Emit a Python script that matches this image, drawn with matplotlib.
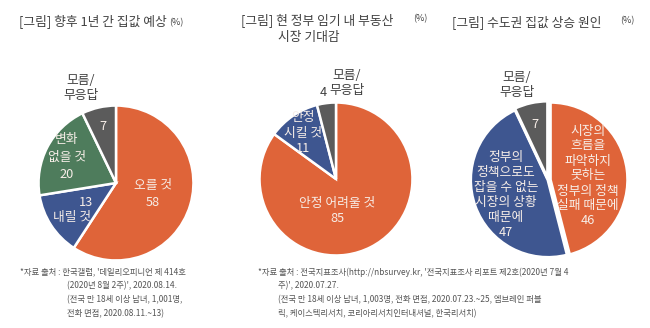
import matplotlib
matplotlib.use('Agg')
import matplotlib.pyplot as plt

plt.rcParams['font.family'] = ['Noto Sans CJK KR', 'DejaVu Sans']

W, H = 650, 328

# 데이터
pie1_labels = ['오를 것', '내릴 것', '변화 없을 것', '모름/무응답']
pie1_values = [58, 13, 20, 7]
pie2_labels = ['안정 어려울 것', '안정 시킬 것', '모름/무응답']
pie2_values = [85, 11, 4]
pie3_labels = ['정부의 정책 실패 때문에', '시장의 상황 때문에', '모름/무응답']
pie3_values = [46, 47, 7]

ORANGE = '#DF6439'
BLUE = '#3E5690'
GREEN = '#4E7C5C'
GRAY = '#5B5B5B'
TXT_IN = '#F7EEE8'
TXT_OUT = '#404040'
FS = 9.2

fig = plt.figure(figsize=(W / 100, H / 100), dpi=100)
fig.patch.set_facecolor('white')


def px(x, y):
    return x / W, 1 - y / H


def ftext(x, y, s, size=FS, color=TXT_OUT, ha='center', va='center', **kw):
    fx, fy = px(x, y)
    fig.text(fx, fy, s, fontsize=size, color=color, ha=ha, va=va, **kw)


def draw_pie(cx, cy, r, values, colors, explode=None, lw=1.8):
    ax = fig.add_axes([(cx - r) / W, 1 - (cy + r) / H, 2 * r / W, 2 * r / H])
    ax.pie(values, colors=colors, startangle=90, counterclock=False,
           explode=explode, radius=1,
           wedgeprops=dict(edgecolor='white', linewidth=lw))
    ax.set_xlim(-1.02, 1.02)
    ax.set_ylim(-1.02, 1.02)
    ax.set_aspect('equal')
    ax.axis('off')
    return ax


# 그림 1
draw_pie(116, 183, 79, pie1_values, [ORANGE, BLUE, GREEN, GRAY])
ftext(19, 22, '[그림] 향후 1년 간 집값 예상', ha='left')
ftext(169, 23, '(%)', size=6.5, ha='left')
ftext(153, 194, f'오를 것\n{pie1_values[0]}', color=TXT_IN, linespacing=1.35)
ftext(86, 203, f'{pie1_values[1]}', color=TXT_IN)
ftext(72, 218, '내릴 것', color=TXT_IN)
ftext(67, 157, f'변화\n없을 것\n{pie1_values[2]}', color=TXT_IN, linespacing=1.4)
ftext(103, 127, f'{pie1_values[3]}', color=TXT_IN)
ftext(81, 88, '모름/\n무응답', linespacing=1.2)

# 그림 2
draw_pie(336, 179, 78, pie2_values, [ORANGE, BLUE, GRAY])
ftext(241, 20, '[그림] 현 정부 임기 내 부동산', ha='left')
ftext(309, 38, '시장 기대감')
ftext(413, 19, '(%)', size=6.5, ha='left')
ftext(337, 211, f'안정 어려울 것\n{pie2_values[0]}', color=TXT_IN, linespacing=1.3)
ftext(303, 133, f'안정\n시킬 것\n{pie2_values[1]}', color=TXT_IN, linespacing=1.25)
ftext(323, 92, f'{pie2_values[2]}')
ftext(347, 83, '모름/\n무응답', linespacing=1.2)

# 그림 3
draw_pie(548, 180, 79, pie3_values, [ORANGE, BLUE, GRAY],
         explode=[0.03, 0, 0.02], lw=2.2)
ftext(452, 22, '[그림] 수도권 집값 상승 원인', ha='left')
ftext(620, 21, '(%)', size=6.5, ha='left')
ftext(588, 176, f'시장의\n흐름을\n파악하지\n못하는\n정부의 정책\n실패 때문에\n{pie3_values[0]}',
      color=TXT_IN, linespacing=1.2)
ftext(506, 195, f'정부의\n정책으로도\n잡을 수 없는\n시장의 상황\n때문에\n{pie3_values[1]}',
      color=TXT_IN, linespacing=1.2)
ftext(535, 125, f'{pie3_values[2]}', color=TXT_IN)
ftext(517, 85, '모름/\n무응답', linespacing=1.2)

# 자료 출처
NOTE = '#555555'
ftext(20, 272, "*자료 출처 : 한국갤럽, '데일리오피니언 제 414호", size=6, color=NOTE, ha='left')
ftext(67, 286, "(2020년 8월 2주)', 2020.08.14.", size=6, color=NOTE, ha='left')
ftext(67, 300, "(전국 만 18세 이상 남녀, 1,001명,", size=6, color=NOTE, ha='left')
ftext(67, 314, "전화 면접, 2020.08.11.~13)", size=6, color=NOTE, ha='left')

ftext(258, 272, "*자료 출처 : 전국지표조사(http://nbsurvey.kr, '전국지표조사 리포트 제2호(2020년 7월 4",
      size=6, color=NOTE, ha='left')
ftext(278, 286, "주)', 2020.07.27.", size=6, color=NOTE, ha='left')
ftext(278, 300, "(전국 만 18세 이상 남녀, 1,003명, 전화 면접, 2020.07.23.~25, 엠브레인 퍼블",
      size=6, color=NOTE, ha='left')
ftext(278, 314, "릭, 케이스텍리서치, 코리아리서치인터내셔널, 한국리서치)", size=6, color=NOTE, ha='left')

plt.savefig('out.png', dpi=100, facecolor='white')
plt.close(fig)
